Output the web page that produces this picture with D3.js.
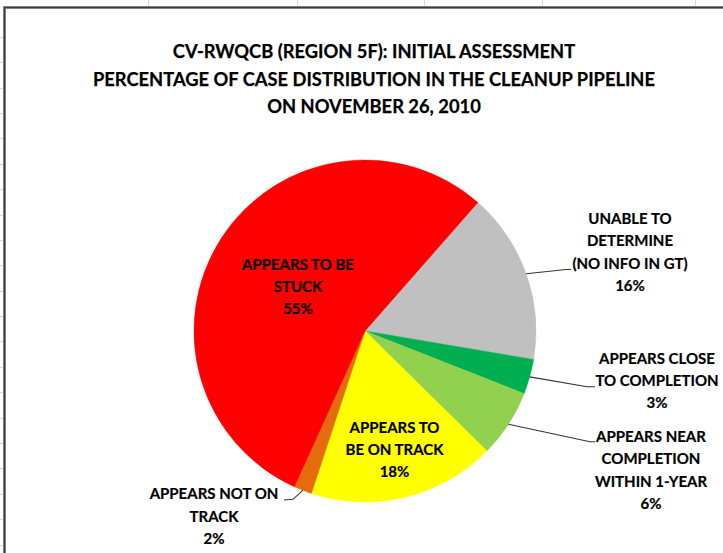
<!DOCTYPE html>
<html>
<head>
<meta charset="utf-8">
<script src="https://cdn.jsdelivr.net/npm/d3@7"></script>
<style>
  html, body { margin: 0; padding: 0; background: #fff; }
  svg { display: block; }
  text { font-family: Lato, "Open Sans", "Liberation Sans", sans-serif; font-weight: bold; fill: #000; }
</style>
</head>
<body>
<svg width="723" height="553"></svg>
<script>
// ---- Data
const titleLines = [
    'CV-RWQCB (REGION 5F): INITIAL ASSESSMENT',
    'PERCENTAGE OF CASE DISTRIBUTION IN THE CLEANUP PIPELINE',
    'ON NOVEMBER 26, 2010'
];
const categories = [
    ['UNABLE TO', 'DETERMINE', '(NO INFO IN GT)'],
    ['APPEARS CLOSE', 'TO COMPLETION'],
    ['APPEARS NEAR', 'COMPLETION', 'WITHIN 1-YEAR'],
    ['APPEARS TO', 'BE ON TRACK'],
    ['APPEARS NOT ON', 'TRACK'],
    ['APPEARS TO BE', 'STUCK']
];
const values = [16.2, 3.3, 6.4, 17.7, 1.7, 54.7];
const colors = ['#C0C0C0', '#00B050', '#92D050', '#FFFF00', '#E46C0A', '#FF0000'];

// ---- Layout (label anchor: centre x, first baseline; leader elbow + end)
const labelPos = [
    { x: 630, y: 224, leader: [[566, 269.5], [571, 269.5]] },
    { x: 657, y: 363.5, leader: [[587, 386.7], [595, 386.7]] },
    { x: 651, y: 441.7, leader: [[590, 441.7], [595, 441.7]] },
    { x: 394.5, y: 432.5, leader: null },
    { x: 214, y: 499.3, leader: [[293, 499.3], [284, 500]] },
    { x: 298, y: 269.5, leader: null }
];

const svg = d3.select('svg');
const cx = 365, cy = 331, radius = 171;
const rotation = 41.3 * Math.PI / 180;
const lineH = 22.4;

// ---- Sheet grid ticks outside the chart frame
const grid = svg.append('g').attr('stroke', '#D0D7E5').attr('stroke-width', 1);
grid.selectAll('line.row')
    .data(d3.range(36.7, 553, 25.4))
    .join('line')
    .attr('class', 'row')
    .attr('x1', 0).attr('x2', 3)
    .attr('y1', d => Math.round(d) + 0.5).attr('y2', d => Math.round(d) + 0.5);
grid.selectAll('line.col')
    .data([148, 297, 424, 542, 695])
    .join('line')
    .attr('class', 'col')
    .attr('x1', d => d + 0.5).attr('x2', d => d + 0.5)
    .attr('y1', 0).attr('y2', 6);

// ---- Chart frame
svg.append('path')
    .attr('d', 'M4.5,553 L4.5,7.5 L723,7.5')
    .attr('fill', 'none')
    .attr('stroke', '#9a9a9a')
    .attr('stroke-width', 3);
svg.append('path')
    .attr('d', 'M4.5,553 L4.5,7.5 L723,7.5')
    .attr('fill', 'none')
    .attr('stroke', '#3c3c3c')
    .attr('stroke-width', 1.6);

// ---- Condense helper: fit a text to a width ratio like Calibri
function condense(sel, k) {
    sel.each(function () {
        const w = this.getComputedTextLength();
        d3.select(this)
            .attr('textLength', w * k)
            .attr('lengthAdjust', 'spacingAndGlyphs');
    });
}

// ---- Title
const title = svg.append('g');
title.selectAll('text')
    .data(titleLines)
    .join('text')
    .attr('x', 374)
    .attr('y', (d, i) => 58 + i * 27.5)
    .attr('text-anchor', 'middle')
    .style('font-size', '19px')
    .style('stroke', '#000')
    .style('stroke-width', 0.25)
    .text(d => d);
const natTitle = title.selectAll('text').nodes()[1].getComputedTextLength();
condense(title.selectAll('text'), 562 / natTitle);

// ---- Pie
const pie = d3.pie()
    .sort(null)
    .value(d => d)
    .startAngle(rotation)
    .endAngle(rotation + 2 * Math.PI);
const arcs = pie(values);
const arc = d3.arc().innerRadius(0).outerRadius(radius);

const pieG = svg.append('g').attr('transform', `translate(${cx},${cy})`);
pieG.selectAll('path')
    .data(arcs)
    .join('path')
    .attr('d', arc)
    .attr('fill', (d, i) => colors[i])
    .attr('stroke', (d, i) => colors[i])
    .attr('stroke-width', 0.5);

// ---- Leader lines
const leaders = svg.append('g');
arcs.forEach((a, i) => {
    const lp = labelPos[i];
    if (!lp.leader) return;
    const mid = (a.startAngle + a.endAngle) / 2;
    const start = [cx + Math.sin(mid) * radius, cy - Math.cos(mid) * radius];
    leaders.append('path')
        .attr('d', d3.line()([start, ...lp.leader]))
        .attr('fill', 'none')
        .attr('stroke', '#333')
        .attr('stroke-width', 1.1);
});

// ---- Data labels
const labels = svg.append('g');
arcs.forEach((a, i) => {
    const lp = labelPos[i];
    const lines = [...categories[i], `${Math.round(values[i])}%`];
    const t = labels.append('g');
    t.selectAll('text')
        .data(lines)
        .join('text')
        .attr('x', lp.x)
        .attr('y', (d, j) => lp.y + j * lineH)
        .attr('text-anchor', 'middle')
        .style('font-size', '15px')
        .style('stroke', '#000')
        .style('stroke-width', 0.2)
        .text(d => d);
});
// reference: "APPEARS TO BE" is ~112px wide in the chart
const refNode = labels.selectAll('text').filter(d => d === 'APPEARS TO BE').node();
const kLabel = 112 / refNode.getComputedTextLength();
condense(labels.selectAll('text'), kLabel);
</script>
</body>
</html>
